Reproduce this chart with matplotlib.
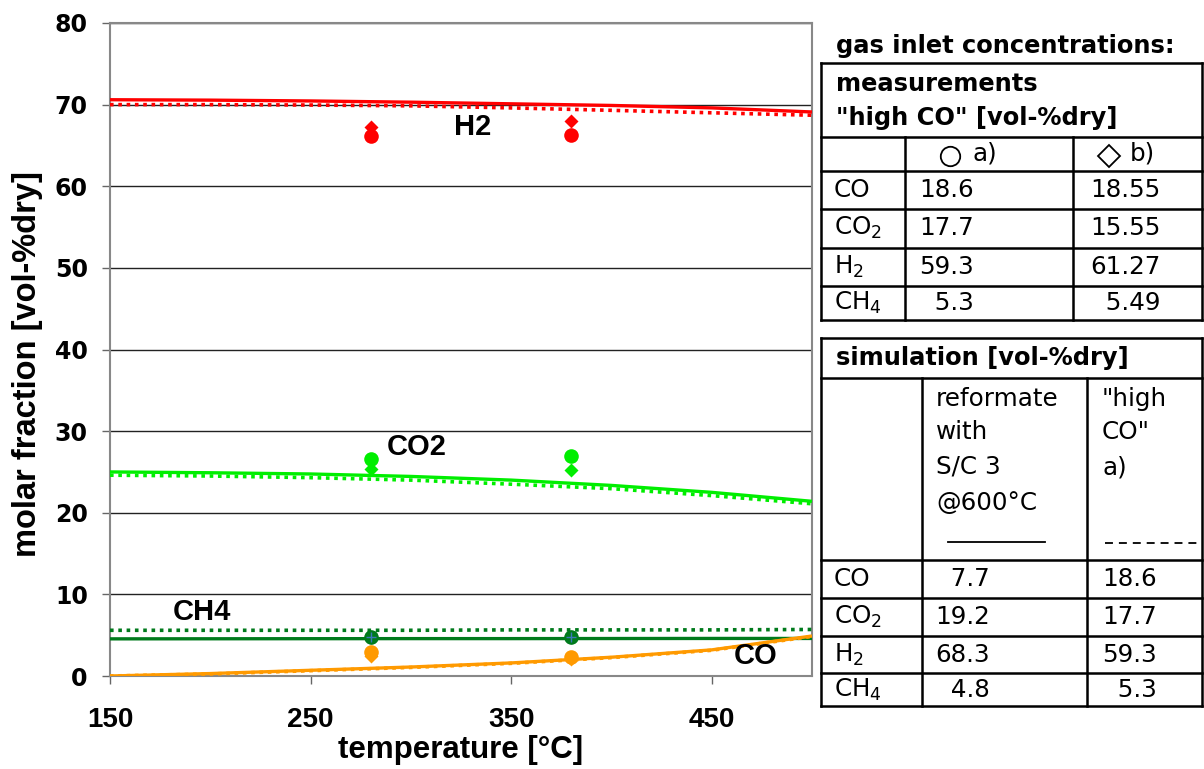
import numpy as np
import matplotlib.pyplot as plt
from matplotlib.lines import Line2D

# simulation temperatures [°C]
t_sim = [150, 200, 250, 300, 350, 400, 450, 500]

# reformate with S/C 3 @600°C (solid lines)
h2_ref = [70.6, 70.55, 70.45, 70.3, 70.1, 69.9, 69.6, 69.1]
co2_ref = [25.0, 24.9, 24.75, 24.45, 24.0, 23.35, 22.5, 21.4]
ch4_ref = [4.55, 4.56, 4.57, 4.58, 4.58, 4.59, 4.6, 4.6]
co_ref = [0.0, 0.3, 0.7, 1.1, 1.6, 2.3, 3.2, 4.9]

# "high CO" a) (dotted lines)
h2_hco = [70.0, 70.0, 69.95, 69.85, 69.6, 69.3, 69.0, 68.7]
co2_hco = [24.6, 24.5, 24.3, 24.0, 23.5, 22.95, 22.1, 21.1]
ch4_hco = [5.6, 5.6, 5.6, 5.6, 5.65, 5.65, 5.65, 5.7]
co_hco = [0.0, 0.25, 0.65, 1.05, 1.55, 2.25, 3.15, 4.85]

# measurements
t_meas = [280, 380]
h2_a = [66.1, 66.3]
h2_b = [67.3, 68.0]
co2_a = [26.6, 27.0]
co2_b = [25.4, 25.2]
ch4_a = [4.8, 4.8]
ch4_b = [4.75, 4.75]
co_a = [3.0, 2.3]
co_b = [2.4, 2.1]

red = '#ff0000'
lime = '#00ee00'
dgreen = '#007a1c'
orange = '#ff9a00'

plt.rcParams['mathtext.fontset'] = 'custom'
plt.rcParams['mathtext.rm'] = 'DejaVu Sans'

fig = plt.figure(figsize=(12.04, 7.69), dpi=100)
ax = fig.add_axes([110 / 1204, 93 / 769, 702 / 1204, 653 / 769])

dots = (0, (1.0, 1.3))
for ref, hco, col in [(h2_ref, h2_hco, red), (co2_ref, co2_hco, lime),
                      (ch4_ref, ch4_hco, dgreen), (co_ref, co_hco, orange)]:
    ax.plot(t_sim, hco, color=col, lw=2.6, linestyle=dots, dash_capstyle='butt', zorder=3)
    ax.plot(t_sim, ref, color=col, lw=2.4, zorder=3, solid_capstyle='butt')

for a, b, col in [(h2_a, h2_b, red), (co2_a, co2_b, lime),
                  (ch4_a, ch4_b, dgreen), (co_a, co_b, orange)]:
    ax.plot(t_meas, b, 'D', color=col, ms=7, mec='none', zorder=4)
    ax.plot(t_meas, a, 'o', color=col, ms=10.5, mec='none', zorder=5)
ax.plot(t_meas, ch4_a, '+', color='#3a78b8', ms=7, mew=1, zorder=6)

lab = dict(fontsize=21, fontweight='bold', family='Liberation Sans', ha='center', va='center')
ax.text(331, 67.3, 'H2', **lab)
ax.text(303, 28.1, 'CO2', **lab)
ax.text(196, 7.9, 'CH4', **lab)
ax.text(472, 2.5, 'CO', **lab)

ax.set_xlim(150, 500)
ax.set_ylim(0, 80)
ax.set_xticks([150, 250, 350, 450])
ax.set_yticks(np.arange(0, 81, 10))
ax.grid(axis='y', color='#222222', lw=1.0)
ax.set_axisbelow(True)
for s in ax.spines.values():
    s.set_color('#888888')
    s.set_linewidth(1.5)
ax.tick_params(axis='both', direction='out', length=6, width=1, color='#666666')
ax.tick_params(axis='y', pad=10)
ax.tick_params(axis='x', pad=16)
for lbl in ax.get_yticklabels():
    lbl.set_fontfamily('DejaVu Sans')
    lbl.set_fontweight('bold')
    lbl.set_fontsize(17)
for lbl in ax.get_xticklabels():
    lbl.set_fontfamily('Liberation Sans')
    lbl.set_fontweight('bold')
    lbl.set_fontsize(20)
ax.set_xlabel('temperature [°C]', fontsize=22.5, fontweight='bold',
              family='Liberation Sans', labelpad=2)
ax.set_ylabel('molar fraction [vol-%dry]', fontsize=23.5, fontweight='bold',
              family='Liberation Sans')
ax.yaxis.set_label_coords(-0.096, 0.478)

# tables on the right, laid out in pixel coordinates
tb = fig.add_axes([0, 0, 1, 1], zorder=-1)
tb.set_xlim(0, 1204)
tb.set_ylim(769, 0)
tb.axis('off')

species = ['CO', 'CO$_2$', 'H$_2$', 'CH$_4$']
meas_a = ['18.6', '17.7', '59.3', '  5.3']
meas_b = ['18.55', '15.55', '61.27', '  5.49']
sim_ref = ['  7.7', '19.2', '68.3', '  4.8']
sim_hco = ['18.6', '17.7', '59.3', '  5.3']

tf = dict(family='DejaVu Sans', fontsize=17.7, va='center', ha='left')
tfb = dict(tf, fontweight='bold', fontsize=17.4)


def hline(y, x0=821, x1=1202):
    tb.add_line(Line2D([x0, x1], [y, y], color='black', lw=1.8))


def vline(x, y0, y1):
    tb.add_line(Line2D([x, x], [y0, y1], color='black', lw=1.8))


tb.text(836, 46, 'gas inlet concentrations:', **tfb)

# measurements table
top, bot = 63, 320
for y in [top, 137, 171, 209, 248, 286, bot]:
    hline(y)
vline(821, top, bot)
vline(1202, top, bot)
vline(905, 137, bot)
vline(1073, 137, bot)
tb.text(836, 84, 'measurements', **tfb)
tb.text(836, 118, '"high CO" [vol-%dry]', **tfb)
tb.plot([950], [156], 'o', ms=14, mfc='none', mec='black', mew=1.3)
tb.text(972, 154, 'a)', **tf)
tb.plot([1109], [156], 'D', ms=11.5, mfc='none', mec='black', mew=1.3)
tb.text(1130, 154, 'b)', **tf)
rows = [190, 228, 267, 303]
for y, sp, va, vb in zip(rows, species, meas_a, meas_b):
    tb.text(834, y, sp, **tf)
    tb.text(919, y, va, **tf)
    tb.text(1090, y, vb, **tf)

# simulation table
top, bot = 338, 706
for y in [top, 378, 560, 598, 636, 673, bot]:
    hline(y)
vline(821, top, bot)
vline(1202, top, bot)
vline(922, 378, bot)
vline(1087, 378, bot)
tb.text(836, 358, 'simulation [vol-%dry]', **tfb)
for y, s in zip([399, 432, 467, 503], ['reformate', 'with', 'S/C 3', '@600°C']):
    tb.text(936, y, s, **tf)
for y, s in zip([399, 432, 467], ['"high', 'CO"', 'a)']):
    tb.text(1102, y, s, **tf)
tb.add_line(Line2D([948, 1045], [542, 542], color='black', lw=1.3))
tb.add_line(Line2D([1105, 1202], [543, 543], color='black', lw=1.3, linestyle=(0, (4.4, 3.3))))
rows = [579, 617, 655, 690]
for y, sp, va, vb in zip(rows, species, sim_ref, sim_hco):
    tb.text(834, y, sp, **tf)
    tb.text(935, y, va, **tf)
    tb.text(1102, y, vb, **tf)

fig.savefig('out.png', dpi=100)
